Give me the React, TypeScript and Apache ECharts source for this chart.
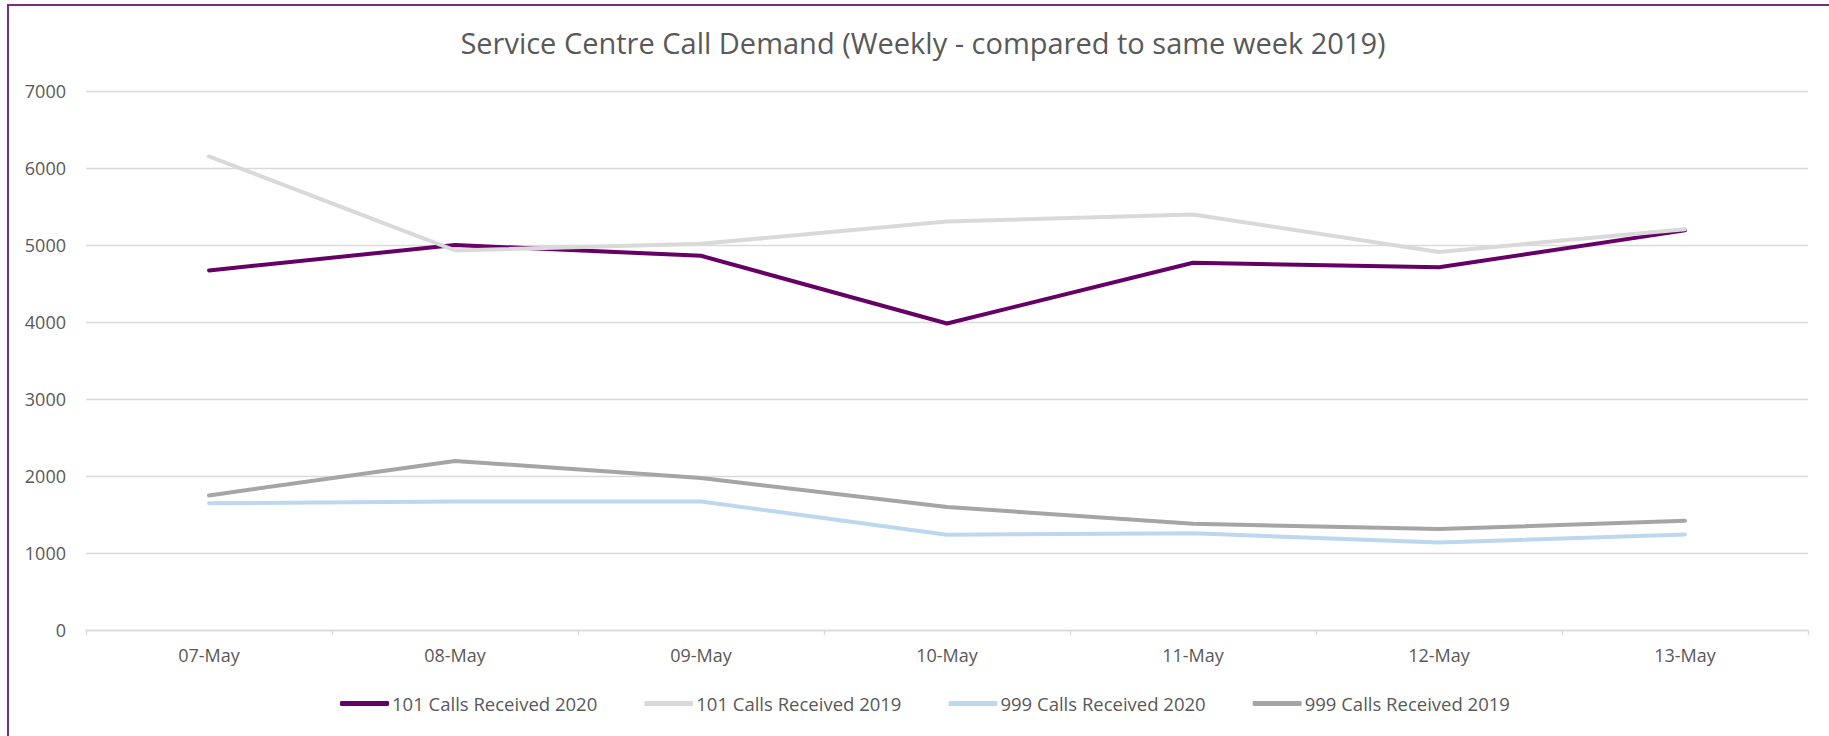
import React, { useEffect, useRef } from "react";
import * as echarts from "echarts";

const categories = ["07-May", "08-May", "09-May", "10-May", "11-May", "12-May", "13-May"];
const calls101_2020 = [4670, 5000, 4860, 3980, 4770, 4710, 5190];
const calls101_2019 = [6150, 4930, 5015, 5305, 5395, 4910, 5205];
const calls999_2020 = [1645, 1670, 1670, 1238, 1255, 1137, 1240];
const calls999_2019 = [1748, 2196, 1974, 1598, 1380, 1311, 1418];
const seriesNames = [
  "101 Calls Received 2020",
  "101 Calls Received 2019",
  "999 Calls Received 2020",
  "999 Calls Received 2019",
];
const seriesColors = ["#660066", "#d9d9d9", "#bdd7ee", "#a5a5a5"];
const titleText = "Service Centre Call Demand (Weekly - compared to same week 2019)";

export default function App() {
  const ref = useRef<HTMLDivElement>(null);
  useEffect(() => {
    if (!ref.current) return;
    const chart = echarts.init(ref.current, undefined, { renderer: "svg" });
    const data = [calls101_2020, calls101_2019, calls999_2020, calls999_2019];
    const font = "'Open Sans', sans-serif";
    chart.setOption({
      animation: false,
      backgroundColor: "#ffffff",
      textStyle: { fontFamily: font },
      title: {
        text: titleText,
        left: 918,
        top: 23,
        textAlign: "center",
        textStyle: { fontFamily: font, fontSize: 29, fontWeight: "normal", color: "#595959" },
      },
      graphic: [
        {
          type: "rect",
          shape: { x: 8, y: 5, width: 1900, height: 800 },
          style: { fill: "none", stroke: "#7b2c83", lineWidth: 2 },
          silent: true,
        },
      ],
      legend: {
        left: 335,
        top: 689,
        itemWidth: 49,
        itemHeight: 5,
        itemGap: 47,
        icon: "roundRect",
        textStyle: { fontFamily: font, fontSize: 18.5, color: "#595959", padding: [0, 0, 0, -2] },
        data: seriesNames,
      },
      grid: { left: 86, right: 21, top: 91, bottom: 106, containLabel: false },
      xAxis: {
        type: "category",
        data: categories,
        boundaryGap: true,
        axisLine: { show: true, lineStyle: { color: "#d9d9d9", width: 1.3 } },
        axisTick: { show: true, length: 5, lineStyle: { color: "#d9d9d9", width: 1.3 } },
        axisLabel: { color: "#595959", fontSize: 18, fontFamily: font, margin: 16 },
        splitLine: { show: false },
      },
      yAxis: {
        type: "value",
        min: 0,
        max: 7000,
        interval: 1000,
        axisLine: { show: false },
        axisTick: { show: false },
        axisLabel: {
          color: "#595959",
          fontSize: 18,
          fontFamily: font,
          margin: 20,
          formatter: (v: number) => String(v),
        },
        splitLine: { show: true, lineStyle: { color: "#d9d9d9", width: 1.3 } },
      },
      series: seriesNames.map((name, i) => ({
        name,
        type: "line",
        data: data[i],
        symbol: "none",
        color: seriesColors[i],
        itemStyle: { color: seriesColors[i] },
        lineStyle: { color: seriesColors[i], width: 4, cap: "round", join: "round" },
      })),
    });
    return () => chart.dispose();
  }, []);
  return (
    <div
      ref={ref}
      style={{ position: "absolute", left: 0, top: 0, width: 1829, height: 736 }}
    />
  );
}
